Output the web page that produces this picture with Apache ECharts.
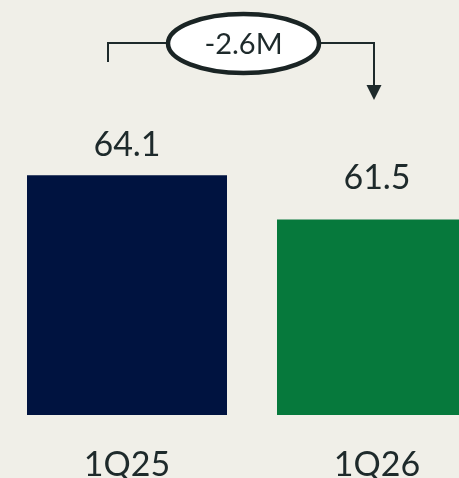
<!DOCTYPE html>
<html><head><meta charset="utf-8">
<script src="https://cdn.jsdelivr.net/npm/echarts@6/dist/echarts.min.js"></script>
<style>html,body{margin:0;padding:0;background:#f0efe8;}#c{width:459px;height:478px;}</style>
</head><body><div id="c"></div>
<script>
const categories = ['1Q25', '1Q26'];
const values = [64.1, 61.5];
const changeLabel = '-2.6M';

const barColors = ['#001340', '#06793c'];
const chart = echarts.init(document.getElementById('c'), null, {renderer: 'canvas'});
const textColor = '#1e2a2b';
const FONT = 'Lato, "Open Sans", sans-serif';
chart.setOption({
  backgroundColor: '#f0efe8',
  animation: false,
  grid: {left: 2, width: 500, top: 75, height: 340, containLabel: false, outerBoundsMode: 'none'},
  xAxis: {
    type: 'category', data: categories,
    axisLine: {show: false}, axisTick: {show: false},
    axisLabel: {color: textColor, fontSize: 34, fontFamily: FONT, margin: 33}
  },
  yAxis: {type: 'value', min: 50, max: 70, show: false, splitLine: {show: false}},
  series: [{
    type: 'bar', barWidth: 200,
    data: values.map((v, i) => ({
      value: v,
      itemStyle: {color: barColors[i]},
      label: {distance: i === 0 ? 13 : 24}
    })),
    label: {show: true, position: 'top', color: textColor, fontSize: 34, fontFamily: FONT,
      formatter: p => p.value.toFixed(1)}
  }],
  graphic: [
    {type: 'polyline', shape: {points: [[108, 62], [108, 43], [168, 43]]},
     style: {stroke: textColor, lineWidth: 2, fill: null}},
    {type: 'polyline', shape: {points: [[319, 43], [374, 43], [374, 88]]},
     style: {stroke: textColor, lineWidth: 2, fill: null}},
    {type: 'polygon', shape: {points: [[366.5, 85], [381.5, 85], [374, 100]]},
     style: {fill: textColor}},
    {type: 'ellipse', shape: {cx: 243.5, cy: 43.5, rx: 75.5, ry: 29.5},
     style: {fill: '#ffffff', stroke: '#1a2424', lineWidth: 4.5}},
    {type: 'text', x: 243.5, y: 45,
     style: {text: changeLabel, fill: textColor, fontSize: 29, fontFamily: FONT,
       textAlign: 'center', textVerticalAlign: 'middle'}}
  ]
});
</script></body></html>
